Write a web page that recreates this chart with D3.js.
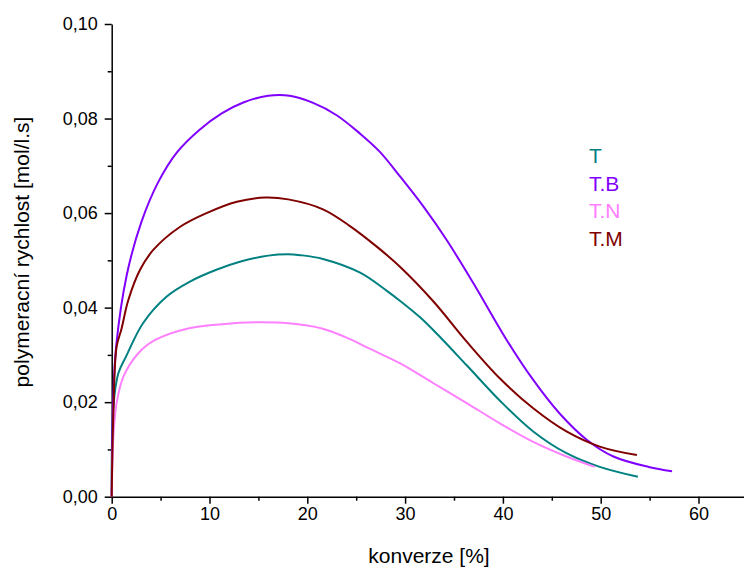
<!DOCTYPE html>
<html lang="cs">
<head>
<meta charset="UTF-8">
<title>polymerační rychlost</title>
<script src="https://d3js.org/d3.v7.min.js"></script>
<style>
  body { margin: 0; background: #fff; }
  svg { display: block; font-family: Arial, "Liberation Sans", sans-serif; }
  .axis path, .axis line { stroke: #000; stroke-width: 1.5; }
  .axis text { font-size: 18px; fill: #000; }
</style>
</head>
<body>
<div id="chart"></div>
<script>
// konverze [%] a rychlost [mol/l.s]
const seriesNames = ["T", "T.B", "T.N", "T.M"];
const seriesColors = ["#008080", "#8000ff", "#ff80ff", "#800000"];

const convT = [0, 0.17, 0.68, 1.5, 3.2, 5.6, 8.0, 10.7, 13.1, 16.0, 18.0, 19.3, 21.6, 25.4, 28.1, 29.5, 31.5, 32.9, 36.3, 39.7, 43.1, 46.5, 49.9, 53.8];
const rateT = [0, 0.019, 0.0261, 0.0298, 0.0367, 0.0423, 0.0455, 0.048, 0.0497, 0.051, 0.0513, 0.0511, 0.0503, 0.0474, 0.0436, 0.0414, 0.038, 0.0352, 0.0278, 0.0203, 0.0138, 0.0092, 0.0063, 0.0042];

const convTB = [0, 0.15, 0.45, 1.55, 3.05, 4.77, 6.65, 8.96, 11.25, 13.46, 16.0, 18.2, 20.6, 23.0, 25.4, 27.4, 29.5, 31.9, 34.25, 37.0, 40.4, 43.1, 45.8, 48.6, 51.3, 54.9, 57.3];
const rateTB = [0, 0.02, 0.0317, 0.047, 0.0582, 0.0666, 0.0728, 0.0776, 0.0811, 0.0834, 0.0848, 0.0848, 0.0833, 0.0807, 0.0768, 0.073, 0.0677, 0.0613, 0.0543, 0.0451, 0.0331, 0.0247, 0.0176, 0.012, 0.0085, 0.0063, 0.0054];

const convTN = [0, 0.17, 0.5, 1.2, 2.7, 4.4, 7.8, 11.25, 14.65, 18.05, 21.5, 23.85, 26.5, 29.5, 32.9, 36.3, 39.7, 43.1, 46.5, 49.4];
const rateTN = [0, 0.0127, 0.0198, 0.0254, 0.0303, 0.0331, 0.0356, 0.0365, 0.0369, 0.0367, 0.0356, 0.0338, 0.0312, 0.0282, 0.024, 0.0198, 0.0155, 0.0116, 0.0085, 0.0063];

const convTM = [0, 0.17, 0.5, 1.0, 1.7, 2.9, 4.25, 7.0, 9.7, 12.8, 15.7, 18.05, 21.6, 24.4, 27.1, 29.5, 32.9, 36.3, 39.7, 43.1, 46.5, 49.9, 53.7];
const rateTM = [0, 0.0176, 0.0317, 0.0355, 0.0416, 0.048, 0.0522, 0.0571, 0.06, 0.0624, 0.0633, 0.0629, 0.0608, 0.0572, 0.0529, 0.0486, 0.0413, 0.0328, 0.025, 0.0187, 0.0138, 0.0106, 0.0088];

const xMajorTicks = [0, 10, 20, 30, 40, 50, 60];
const yMajorTicks = [0, 0.02, 0.04, 0.06, 0.08, 0.10];

const convs = [convT, convTB, convTN, convTM];
const rates = [rateT, rateTB, rateTN, rateTM];
const series = seriesNames.map((name, i) => ({
    name: name,
    color: seriesColors[i],
    values: convs[i].map((c, j) => ({ x: c, y: rates[i][j] }))
}));

const W = 744, H = 568;
const svg = d3.select("#chart").append("svg")
    .attr("width", W)
    .attr("height", H);

const x = d3.scaleLinear().domain([0, 65]).range([111.7, 747.4]);
const y = d3.scaleLinear().domain([0, 0.10]).range([496.7, 24]);

const fmt = d => d3.format(".2f")(d).replace(".", ",");

// vedlejší značky
svg.append("g")
    .attr("class", "axis")
    .attr("transform", `translate(0,${y(0)})`)
    .call(d3.axisBottom(x).tickValues(d3.range(5, 65, 10)).tickSize(4).tickFormat(""))
    .select(".domain").remove();
svg.append("g")
    .attr("class", "axis")
    .attr("transform", `translate(${x(0)},0)`)
    .call(d3.axisLeft(y).tickValues([0.01, 0.03, 0.05, 0.07, 0.09]).tickSize(4).tickFormat(""))
    .select(".domain").remove();

// hlavní osy
svg.append("g")
    .attr("class", "axis")
    .attr("transform", `translate(0,${y(0)})`)
    .call(d3.axisBottom(x).tickValues(xMajorTicks).tickSize(7).tickSizeOuter(0).tickPadding(4));

svg.append("g")
    .attr("class", "axis")
    .attr("transform", `translate(${x(0)},0)`)
    .call(d3.axisLeft(y).tickValues(yMajorTicks).tickSize(7).tickSizeOuter(0).tickPadding(7).tickFormat(fmt));

// křivky
const line = d3.line()
    .x(d => x(d.x))
    .y(d => y(d.y))
    .curve(d3.curveCatmullRom.alpha(0.5));

svg.selectAll(".serie")
    .data(series)
    .enter().append("path")
    .attr("class", "serie")
    .attr("fill", "none")
    .attr("stroke", d => d.color)
    .attr("stroke-width", 2)
    .attr("d", d => line(d.values));

// legenda
svg.selectAll(".leg")
    .data(series)
    .enter().append("text")
    .attr("class", "leg")
    .attr("x", 589)
    .attr("y", (d, i) => 163 + i * 27.5)
    .attr("fill", d => d.color)
    .style("font-size", "21px")
    .text(d => d.name);

// popisky os
svg.append("text")
    .attr("x", 429)
    .attr("y", 563)
    .attr("text-anchor", "middle")
    .style("font-size", "21px")
    .text("konverze [%]");

svg.append("text")
    .attr("transform", "translate(29,252) rotate(-90)")
    .attr("text-anchor", "middle")
    .style("font-size", "21px")
    .text("polymeracní rychlost [mol/l.s]");
</script>
</body>
</html>
